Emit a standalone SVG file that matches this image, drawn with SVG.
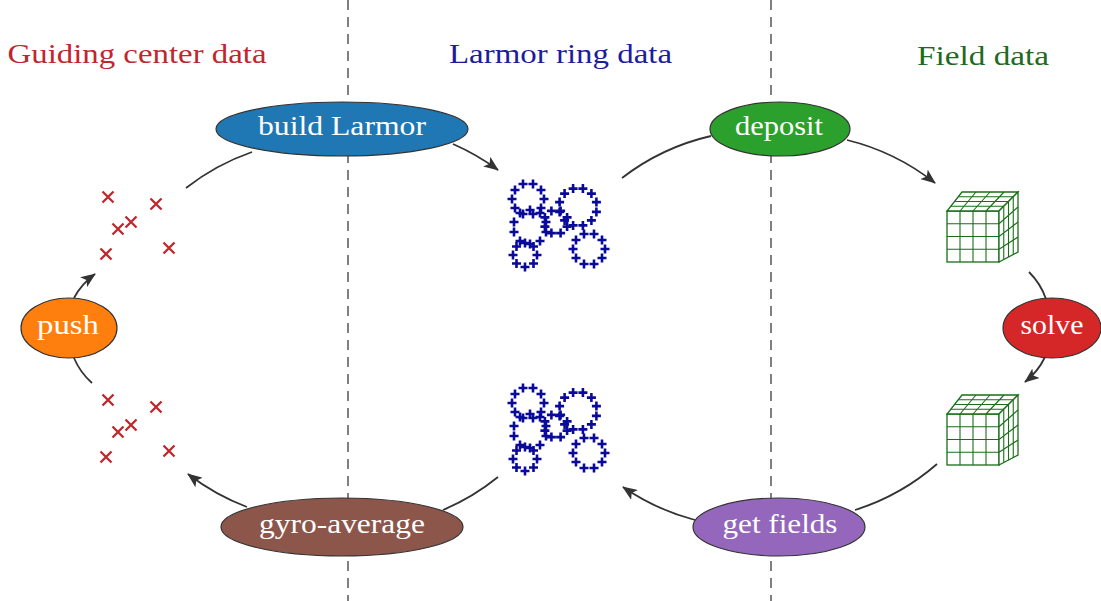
<svg xmlns="http://www.w3.org/2000/svg" xmlns:xlink="http://www.w3.org/1999/xlink" width="1101" height="601" viewBox="0 0 1101 601">
<style>
.sep{stroke:#808080;stroke-width:2;stroke-dasharray:10 7;fill:none}
.title{font-family:"Liberation Serif","Times New Roman",serif;font-size:28px;text-anchor:middle}
.lbl{font-family:"Liberation Serif","Times New Roman",serif;font-size:27px;fill:#fff;text-anchor:middle}
.node{stroke:#333;stroke-width:1.2}
.edge{fill:none;stroke:#333;stroke-width:1.8}
.cross{fill:none;stroke:#c0272d;stroke-width:2.3}
.plus{fill:none;stroke:#0a0a9a;stroke-width:2.6}
.cube{fill:#fff;stroke:#1a6e1a;stroke-width:1.3}
.cgrid{fill:none;stroke:#1a6e1a;stroke-width:1.1}
</style>
<defs>
<marker id="arr" markerUnits="userSpaceOnUse" markerWidth="15" markerHeight="12" viewBox="0 0 15 12" refX="14" refY="6" orient="auto">
<path d="M0,0 L15,6 L0,12 L3.5,6 z" fill="#333"/>
</marker>
<path id="xm" d="M-5.5,-5.5L5.5,5.5M5.5,-5.5L-5.5,5.5"/>
<path id="pm" d="M-4.5,0H4.5M0,-4.5V4.5"/>
<g id="crosses" class="cross">
<use href="#xm" x="108" y="197"/><use href="#xm" x="156" y="204"/><use href="#xm" x="131" y="222"/>
<use href="#xm" x="118" y="229"/><use href="#xm" x="106" y="254"/><use href="#xm" x="169" y="248"/>
</g>
<g id="rings" class="plus">
<use href="#pm" x="544" y="199"/><use href="#pm" x="541" y="208"/><use href="#pm" x="533" y="214"/><use href="#pm" x="523" y="214"/><use href="#pm" x="515" y="208"/><use href="#pm" x="512" y="199"/><use href="#pm" x="515" y="190"/><use href="#pm" x="523" y="184"/><use href="#pm" x="533" y="184"/><use href="#pm" x="541" y="190"/>
<use href="#pm" x="546" y="232"/><use href="#pm" x="540" y="241"/><use href="#pm" x="530" y="244"/><use href="#pm" x="520" y="241"/><use href="#pm" x="514" y="232"/><use href="#pm" x="514" y="222"/><use href="#pm" x="520" y="213"/><use href="#pm" x="530" y="210"/><use href="#pm" x="540" y="213"/><use href="#pm" x="546" y="222"/>
<use href="#pm" x="537" y="255"/><use href="#pm" x="533.5" y="263.5"/><use href="#pm" x="525" y="267"/><use href="#pm" x="516.5" y="263.5"/><use href="#pm" x="513" y="255"/><use href="#pm" x="516.5" y="246.5"/><use href="#pm" x="525" y="243"/><use href="#pm" x="533.5" y="246.5"/>
<use href="#pm" x="596.4" y="211.9"/><use href="#pm" x="591.4" y="220.4"/><use href="#pm" x="582.9" y="225.4"/><use href="#pm" x="573.1" y="225.4"/><use href="#pm" x="564.6" y="220.4"/><use href="#pm" x="559.6" y="211.9"/><use href="#pm" x="559.6" y="202.1"/><use href="#pm" x="564.6" y="193.6"/><use href="#pm" x="573.1" y="188.6"/><use href="#pm" x="582.9" y="188.6"/><use href="#pm" x="591.4" y="193.6"/><use href="#pm" x="596.4" y="202.1"/>
<use href="#pm" x="567.1" y="226.6"/><use href="#pm" x="560.6" y="233.1"/><use href="#pm" x="551.4" y="233.1"/><use href="#pm" x="544.9" y="226.6"/><use href="#pm" x="544.9" y="217.4"/><use href="#pm" x="551.4" y="210.9"/><use href="#pm" x="560.6" y="210.9"/><use href="#pm" x="567.1" y="217.4"/>
<use href="#pm" x="605" y="249"/><use href="#pm" x="602" y="258"/><use href="#pm" x="594" y="264"/><use href="#pm" x="584" y="264"/><use href="#pm" x="576" y="258"/><use href="#pm" x="573" y="249"/><use href="#pm" x="576" y="240"/><use href="#pm" x="584" y="234"/><use href="#pm" x="594" y="234"/><use href="#pm" x="602" y="240"/>
</g>
<g id="cube">
<rect class="cube" x="0" y="0" width="52" height="51"/>
<polygon class="cube" points="0,0 52,0 71,-19 15,-19"/>
<polygon class="cube" points="52,0 71,-19 71,41 52,51"/>
<path class="cgrid" d="M13,0V51M26,0V51M39,0V51M0,12.75H52M0,25.5H52M0,38.25H52
M13,0L29,-19M26,0L43,-19M39,0L57,-19M3.75,-4.75H56.75M7.5,-9.5H61.5M11.25,-14.25H66.25
M56.75,-4.75V48.5M61.5,-9.5V46M66.25,-14.25V43.5M52,12.75L71,-4M52,25.5L71,11M52,38.25L71,26"/>
</g>
</defs>

<g id="separators">
<line class="sep" x1="348" y1="0" x2="348" y2="601"/>
<line class="sep" x1="771" y1="0" x2="771" y2="601"/>
</g>

<g id="titles">
<text class="title" x="137" y="63" fill="#c0272d" textLength="259" lengthAdjust="spacingAndGlyphs">Guiding center data</text>
<text class="title" x="560.5" y="63" fill="#1c1c9c" textLength="223" lengthAdjust="spacingAndGlyphs">Larmor ring data</text>
<text class="title" x="983" y="65" fill="#1d6b1d" textLength="132" lengthAdjust="spacingAndGlyphs">Field data</text>
</g>

<g id="connectors">
<path class="edge" d="M186,188 A230,230 0 0 1 252,152"/>
<path class="edge" d="M453,144 A230,230 0 0 1 498,170" marker-end="url(#arr)"/>
<path class="edge" d="M622,178 A230,230 0 0 1 711,136"/>
<path class="edge" d="M847,140 A230,230 0 0 1 935,183" marker-end="url(#arr)"/>
<path class="edge" d="M1029,272 A70,70 0 0 1 1046,299"/>
<path class="edge" d="M1045,357 A70,70 0 0 1 1025,382" marker-end="url(#arr)"/>
<path class="edge" d="M937,464 A230,230 0 0 1 855,510"/>
<path class="edge" d="M695,520 A230,230 0 0 1 623,487" marker-end="url(#arr)"/>
<path class="edge" d="M498,477 A230,230 0 0 1 443,510"/>
<path class="edge" d="M247,507 A230,230 0 0 1 188,474" marker-end="url(#arr)"/>
<path class="edge" d="M92,383 A70,70 0 0 1 74,358"/>
<path class="edge" d="M74,298 A70,70 0 0 1 95,274" marker-end="url(#arr)"/>
</g>

<g id="gc-top"><use href="#crosses"/></g>
<g id="gc-bottom"><use href="#crosses" y="203"/></g>
<g id="rings-top"><use href="#rings"/></g>
<g id="rings-bottom"><use href="#rings" y="204"/></g>
<g id="field-top"><use href="#cube" x="947" y="211"/></g>
<g id="field-bottom"><use href="#cube" x="947" y="414"/></g>

<g id="build-larmor">
<ellipse class="node" cx="342" cy="129" rx="126" ry="27" fill="#1f77b4"/>
<text class="lbl" x="342" y="135" textLength="168" lengthAdjust="spacingAndGlyphs">build Larmor</text>
</g>
<g id="deposit">
<ellipse class="node" cx="780" cy="129" rx="70" ry="27" fill="#2ca02c"/>
<text class="lbl" x="779" y="135" textLength="88" lengthAdjust="spacingAndGlyphs">deposit</text>
</g>
<g id="solve">
<ellipse class="node" cx="1052" cy="328" rx="49" ry="30" fill="#d62728"/>
<text class="lbl" x="1052" y="334" textLength="63" lengthAdjust="spacingAndGlyphs">solve</text>
</g>
<g id="get-fields">
<ellipse class="node" cx="779" cy="527" rx="86" ry="29" fill="#9467bd"/>
<text class="lbl" x="780" y="533" textLength="115" lengthAdjust="spacingAndGlyphs">get fields</text>
</g>
<g id="gyro-average">
<ellipse class="node" cx="342" cy="527" rx="121" ry="29" fill="#8c564b"/>
<text class="lbl" x="342" y="533" textLength="166" lengthAdjust="spacingAndGlyphs">gyro-average</text>
</g>
<g id="push">
<ellipse class="node" cx="69" cy="328" rx="48" ry="30" fill="#ff7f0e"/>
<text class="lbl" x="68" y="334" textLength="62" lengthAdjust="spacingAndGlyphs">push</text>
</g>
</svg>
